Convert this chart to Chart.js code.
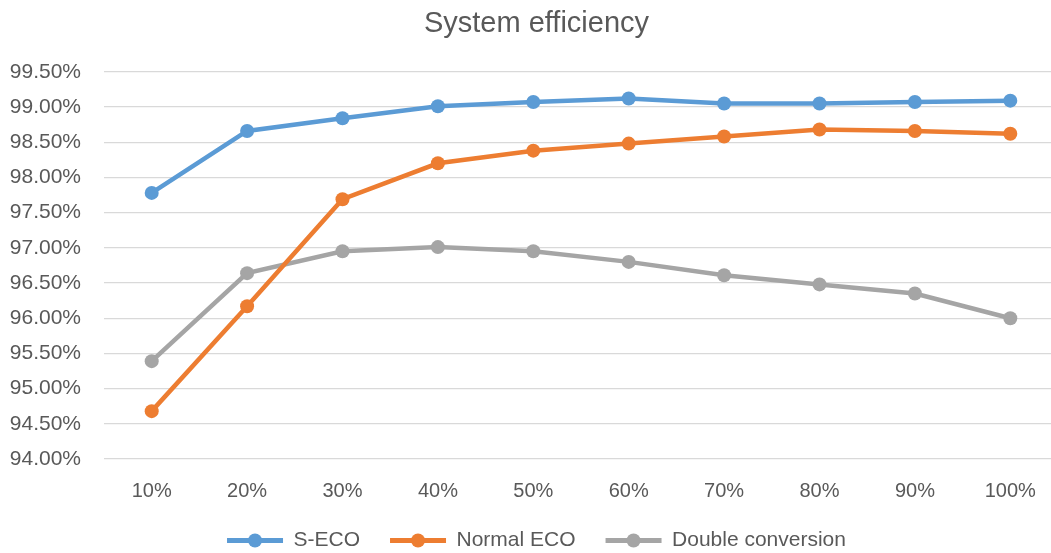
<!DOCTYPE html>
<html>
<head>
<meta charset="utf-8">
<script src="https://cdn.jsdelivr.net/npm/chart.js@4.4.0/dist/chart.umd.min.js"></script>
<style>
  html, body { margin: 0; padding: 0; background: #fff; overflow: hidden; }
  #wrap { width: 1065px; height: 553px; position: relative; }
</style>
</head>
<body>
<div id="wrap"><canvas id="efficiency-chart"></canvas></div>
<script>
// chart data
const loadLevels = ['10%', '20%', '30%', '40%', '50%', '60%', '70%', '80%', '90%', '100%'];
const sEco = [97.78, 98.66, 98.84, 99.01, 99.07, 99.12, 99.05, 99.05, 99.07, 99.09];
const normalEco = [94.68, 96.17, 97.69, 98.20, 98.38, 98.48, 98.58, 98.68, 98.66, 98.62];
const doubleConversion = [95.39, 96.64, 96.95, 97.01, 96.95, 96.80, 96.61, 96.48, 96.35, 96.00];
const yTicks = [94.0, 94.5, 95.0, 95.5, 96.0, 96.5, 97.0, 97.5, 98.0, 98.5, 99.0, 99.5];

const fontFamily = '"Liberation Sans", Arial, sans-serif';
const textColor = '#595959';

function series(label, data, color) {
    return {
        label: label,
        data: data,
        borderColor: color,
        backgroundColor: color,
        borderWidth: 4.5,
        pointRadius: 7,
        pointHoverRadius: 7,
        pointBorderWidth: 0,
        tension: 0
    };
}

// draw a dot on top of each legend line, like Excel's line+marker legend
const legendDots = {
    id: 'legendDots',
    afterDraw(chart) {
        const legend = chart.legend;
        if (!legend || !legend.legendHitBoxes) return;
        const ctx = chart.ctx;
        const boxWidth = legend.options.labels.boxWidth;
        legend.legendHitBoxes.forEach(function(box, i) {
            const color = chart.data.datasets[i].borderColor;
            ctx.save();
            ctx.fillStyle = color;
            ctx.beginPath();
            ctx.arc(box.left + boxWidth / 2, box.top + box.height / 2, 7, 0, Math.PI * 2);
            ctx.fill();
            ctx.restore();
        });
    }
};

const ctx = document.getElementById('efficiency-chart').getContext('2d');
new Chart(ctx, {
    type: 'line',
    data: {
        labels: loadLevels,
        datasets: [
            series('S-ECO', sEco, '#5B9BD5'),
            series('Normal ECO', normalEco, '#ED7D31'),
            series('Double conversion', doubleConversion, '#A5A5A5')
        ]
    },
    options: {
        responsive: true,
        maintainAspectRatio: false,
        animation: false,
        layout: {
            padding: { left: 10, right: 2, top: 7, bottom: -8 }
        },
        plugins: {
            title: {
                display: true,
                text: 'System efficiency',
                color: textColor,
                font: { family: fontFamily, size: 29, weight: 'normal' },
                padding: { top: 0, bottom: 30 }
            },
            legend: {
                position: 'bottom',
                labels: {
                    color: textColor,
                    font: { family: fontFamily, size: 21 },
                    boxWidth: 56,
                    boxHeight: 5,
                    padding: 30,
                    generateLabels(chart) {
                        return chart.data.datasets.map(function(ds, i) {
                            return {
                                text: ds.label,
                                fillStyle: ds.borderColor,
                                strokeStyle: ds.borderColor,
                                lineWidth: 0,
                                fontColor: textColor,
                                datasetIndex: i
                            };
                        });
                    }
                }
            },
            tooltip: { enabled: false }
        },
        scales: {
            x: {
                offset: true,
                afterFit(axis) {
                    axis.height = 41;
                },
                grid: { display: false, drawTicks: false },
                border: { display: false },
                ticks: {
                    color: textColor,
                    font: { family: fontFamily, size: 20 },
                    padding: 20
                }
            },
            y: {
                min: 94,
                max: 99.5,
                afterBuildTicks(axis) {
                    axis.ticks = yTicks.map(function(v) { return { value: v }; });
                },
                afterFit(axis) {
                    axis.width = 94;
                },
                grid: { color: '#D9D9D9', lineWidth: 1.3, drawTicks: false },
                border: { display: false },
                ticks: {
                    color: textColor,
                    font: { family: fontFamily, size: 21 },
                    padding: 23,
                    callback: function(v) { return v.toFixed(2) + '%'; }
                }
            }
        }
    },
    plugins: [legendDots]
});
</script>
</body>
</html>
